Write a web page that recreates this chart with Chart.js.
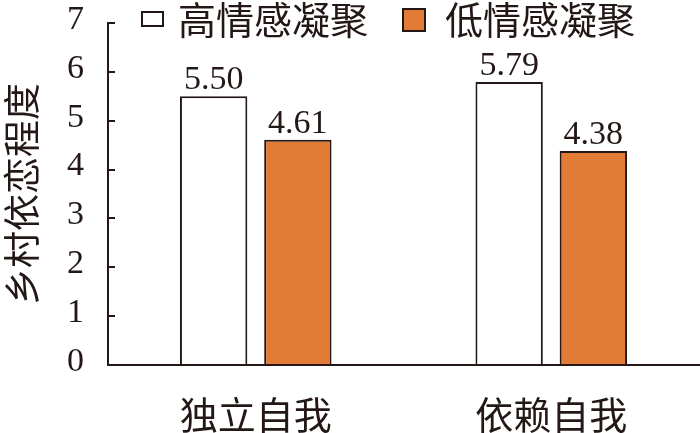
<!DOCTYPE html>
<html>
<head>
<meta charset="utf-8">
<script src="https://cdn.jsdelivr.net/npm/chart.js@4/dist/chart.umd.min.js"></script>
<style>
  html, body { margin: 0; padding: 0; background: #fff; }
  canvas { display: block; }
</style>
</head>
<body>
<canvas id="chart" width="700" height="433"></canvas>
<script>
// data
const categories = ['独立自我', '依赖自我'];
const seriesNames = ['高情感凝聚', '低情感凝聚'];
const highValues = [5.50, 5.79];
const lowValues = [4.61, 4.38];
const yTicks = [0, 1, 2, 3, 4, 5, 6, 7];
const yTitle = '乡村依恋程度';

const INK = '#231815';
const ORANGE = '#E27B36';
const CJK = '"Noto Sans CJK SC", "Noto Sans", sans-serif';
const SERIF = '"Liberation Serif", "DejaVu Serif", serif';

// value labels above each bar
const valueLabels = {
    id: 'valueLabels',
    afterDatasetsDraw(chart) {
        const ctx = chart.ctx;
        ctx.save();
        ctx.font = '34px ' + SERIF;
        ctx.fillStyle = INK;
        ctx.textAlign = 'center';
        ctx.textBaseline = 'alphabetic';
        chart.data.datasets.forEach((ds, i) => {
            chart.getDatasetMeta(i).data.forEach((bar, j) => {
                ctx.fillText(ds.data[j].toFixed(2), bar.x, bar.y - 7);
            });
        });
        ctx.restore();
    }
};

// legend sits inside the plot area, above the bars
const insideLegend = {
    id: 'insideLegend',
    afterDraw(chart) {
        const ctx = chart.ctx;
        const boxes = [
            { x: 141, y: 11, w: 23, h: 16, textX: 178 },
            { x: 402, y: 8, w: 24, h: 24, textX: 445 }
        ];
        ctx.save();
        ctx.font = '38px ' + CJK;
        ctx.textBaseline = 'middle';
        ctx.textAlign = 'left';
        chart.data.datasets.forEach((ds, i) => {
            const b = boxes[i];
            ctx.fillStyle = ds.backgroundColor;
            ctx.fillRect(b.x, b.y, b.w, b.h);
            ctx.lineWidth = 2;
            ctx.strokeStyle = INK;
            ctx.strokeRect(b.x + 1, b.y + 1, b.w - 2, b.h - 2);
            ctx.fillStyle = INK;
            ctx.fillText(ds.label, b.textX, 20);
        });
        ctx.restore();
    }
};

const ctx = document.getElementById('chart').getContext('2d');
new Chart(ctx, {
    type: 'bar',
    data: {
        labels: categories,
        datasets: [{
            label: seriesNames[0],
            data: highValues,
            backgroundColor: '#ffffff',
            borderColor: INK,
            borderWidth: 2,
            borderSkipped: 'bottom'
        }, {
            label: seriesNames[1],
            data: lowValues,
            backgroundColor: ORANGE,
            borderColor: INK,
            borderWidth: 2,
            borderSkipped: 'bottom'
        }]
    },
    options: {
        responsive: false,
        animation: false,
        layout: { padding: { top: 23, right: 1, bottom: 0, left: 0 } },
        datasets: { bar: { categoryPercentage: 0.57, barPercentage: 0.8 } },
        plugins: {
            legend: { display: false },
            tooltip: { enabled: false }
        },
        scales: {
            x: {
                grid: { display: false },
                border: { display: true, color: INK, width: 2 },
                ticks: {
                    color: INK,
                    font: { family: CJK, size: 38 },
                    padding: 19,
                    maxRotation: 0
                },
                afterFit(scale) {
                    scale.height = 68;
                    scale.paddingLeft = 0;
                    scale.paddingRight = 0;
                }
            },
            y: {
                min: 0,
                max: 7,
                afterBuildTicks(scale) { scale.ticks = yTicks.map(v => ({ value: v })); },
                grid: {
                    drawOnChartArea: false,
                    drawTicks: true,
                    tickLength: -7,
                    color: INK,
                    lineWidth: 2
                },
                border: { display: true, color: INK, width: 2 },
                ticks: {
                    color: INK,
                    font: { family: SERIF, size: 34 },
                    padding: 31,
                    labelOffset: -3
                },
                title: {
                    display: true,
                    text: yTitle,
                    color: INK,
                    font: { family: CJK, size: 37 },
                    padding: 0
                },
                afterFit(scale) {
                    scale.width = 108;
                    scale.paddingTop = 0;
                    scale.paddingBottom = 0;
                }
            }
        }
    },
    plugins: [valueLabels, insideLegend]
});
</script>
</body>
</html>
